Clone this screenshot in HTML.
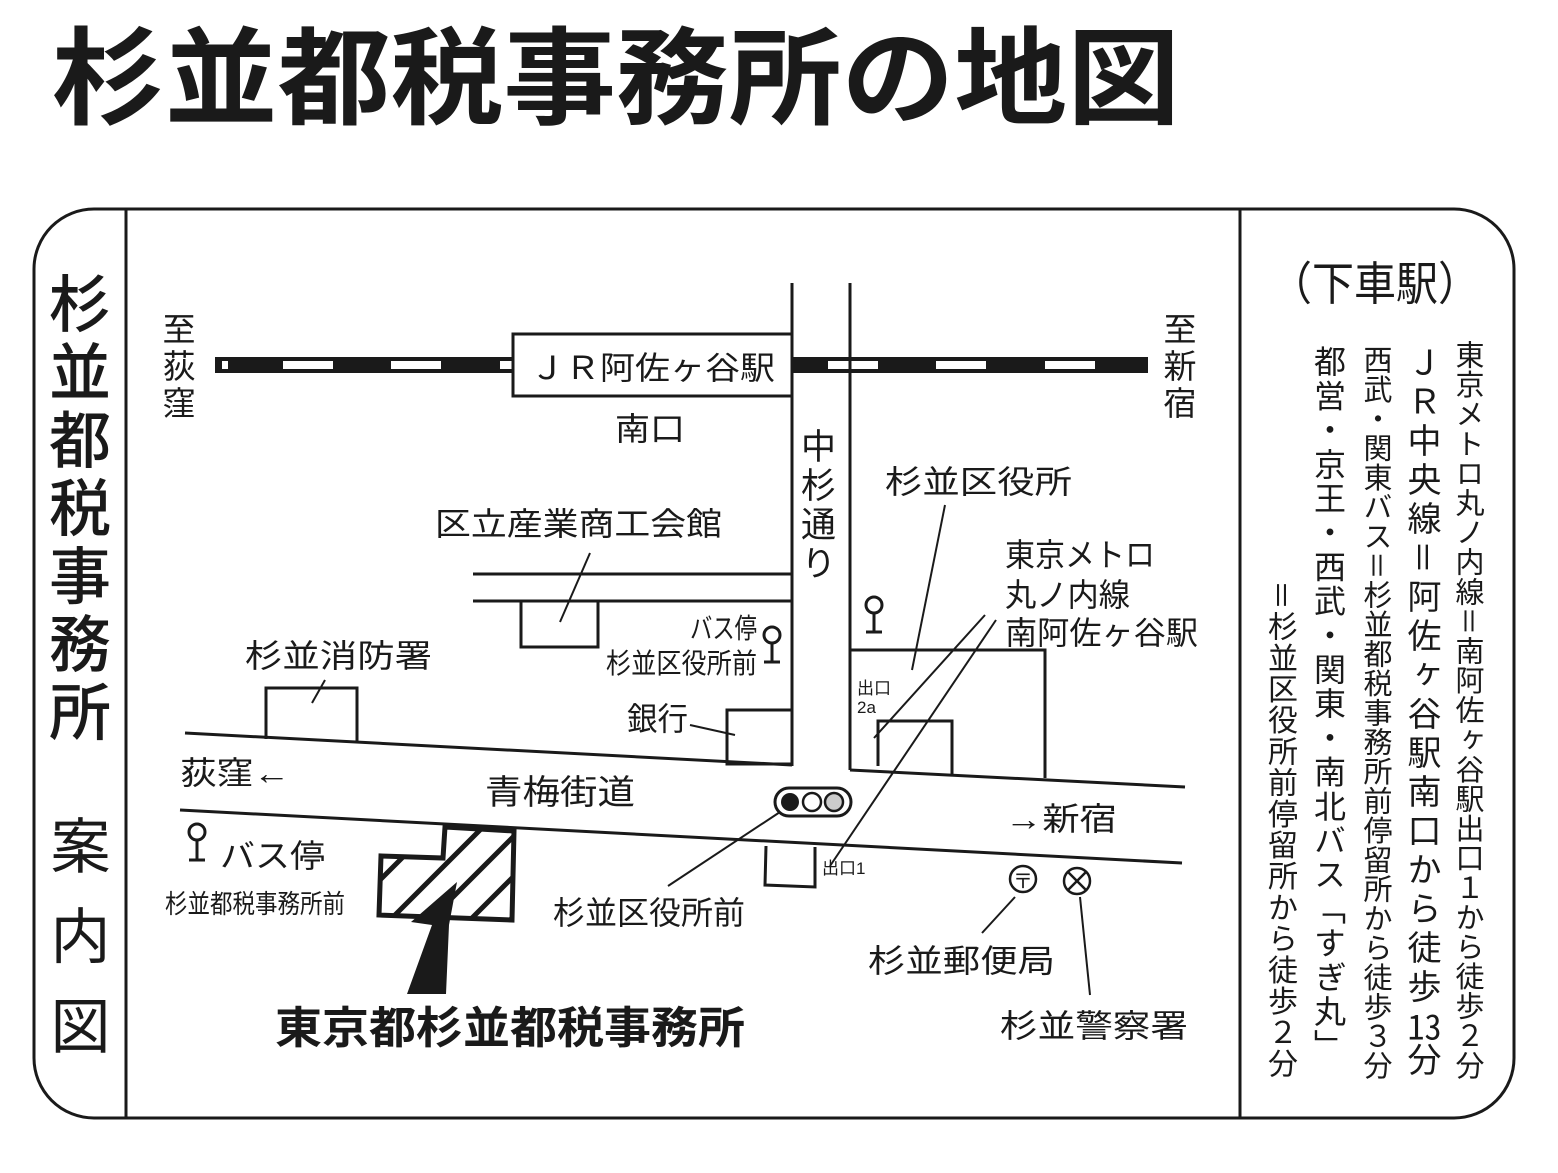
<!DOCTYPE html>
<html><head><meta charset="utf-8">
<style>
body{margin:0;background:#fff;}
#w{position:relative;width:1558px;height:1173px;overflow:hidden;font-family:"Liberation Sans","Noto Sans CJK JP",sans-serif;color:#1a1a1a;}
.v{position:absolute;writing-mode:vertical-rl;font-family:"Noto Sans CJK JP",sans-serif;white-space:nowrap;line-height:1;}
.tcy{text-combine-upright:all;}
svg text{font-family:"Liberation Sans","Noto Sans CJK JP",sans-serif;fill:#1a1a1a;}
</style></head><body><div id="w">
<svg width="1558" height="1173" viewBox="0 0 1558 1173" style="position:absolute;left:0;top:0">
<defs>
<clipPath id="bc"><polygon points="445,827 514,831 512,920 379,915 381,856 443,858"/></clipPath>
</defs>
<text x="52" y="116" font-size="106" font-weight="bold" textLength="1128" lengthAdjust="spacingAndGlyphs" style="font-family:'Noto Sans CJK JP',sans-serif">杉並都税事務所の地図</text>
<rect x="34" y="209" width="1480" height="909" rx="60" fill="none" stroke="#1a1a1a" stroke-width="3"/>
<line x1="126" y1="209" x2="126" y2="1118" stroke="#1a1a1a" stroke-width="3"/>
<line x1="1240" y1="209" x2="1240" y2="1118" stroke="#1a1a1a" stroke-width="3"/>
<text x="1270" y="300" font-size="46" textLength="210" lengthAdjust="spacingAndGlyphs" style="font-family:'Noto Sans CJK JP',sans-serif">（下車駅）</text>

<!-- rail -->
<rect x="215" y="357" width="933" height="16" fill="#1a1a1a"/>
<g fill="#fff">
<rect x="283" y="361" width="50" height="8"/><rect x="391" y="361" width="50" height="8"/><rect x="500" y="361" width="12" height="8"/>
<rect x="828" y="361" width="50" height="8"/><rect x="936" y="361" width="50" height="8"/><rect x="1045" y="361" width="50" height="8"/>
<rect x="222" y="361" width="6" height="8"/>
</g>
<rect x="513" y="334" width="279" height="62" fill="#fff" stroke="#1a1a1a" stroke-width="3"/>
<text x="530" y="379" font-size="32" textLength="245" lengthAdjust="spacingAndGlyphs">ＪＲ阿佐ヶ谷駅</text>
<g stroke="#1a1a1a" stroke-width="3" fill="none">
<line x1="792" y1="283" x2="792" y2="766"/>
<line x1="850" y1="283" x2="850" y2="770"/>
<line x1="473" y1="574" x2="792" y2="574"/>
<line x1="473" y1="601" x2="792" y2="601"/>
<polyline points="521,601 521,647 598,647 598,601"/>
<line x1="560" y1="622" x2="590" y2="553" stroke-width="2"/>
<rect x="727" y="710" width="65" height="54"/>
<line x1="690" y1="725" x2="735" y2="735" stroke-width="2"/>
<polyline points="266,739 266,688 357,688 357,742"/>
<line x1="312" y1="703" x2="325" y2="680" stroke-width="2"/>
<line x1="185" y1="733" x2="792" y2="765"/>
<line x1="850" y1="770" x2="1185" y2="787"/>
<line x1="180" y1="810" x2="1182" y2="863"/>
<polyline points="850,650 1045,650 1045,778"/>
<polyline points="878,766 878,721 952,721 952,774"/>
<line x1="945" y1="505" x2="912" y2="670" stroke-width="2"/>
<line x1="985" y1="615" x2="874" y2="738" stroke-width="2"/>
<line x1="996" y1="620" x2="830" y2="866" stroke-width="2"/>
<polyline points="766,846 765,885 815,887 815,847"/>
<line x1="780" y1="812" x2="668" y2="886" stroke-width="2"/>
<line x1="1015" y1="897" x2="982" y2="933" stroke-width="2"/>
<line x1="1080" y1="897" x2="1090" y2="995" stroke-width="2"/>
</g>
<!-- traffic light -->
<rect x="775" y="788" width="76" height="28" rx="14" fill="#fff" stroke="#1a1a1a" stroke-width="3"/>
<circle cx="790" cy="802" r="9" fill="#1a1a1a"/>
<circle cx="812" cy="802" r="9" fill="#fff" stroke="#1a1a1a" stroke-width="2.5"/>
<circle cx="834" cy="802" r="9" fill="#ccc" stroke="#1a1a1a" stroke-width="2.5"/>
<!-- bus stops -->
<g stroke="#1a1a1a" stroke-width="3" fill="#fff">
<circle cx="772" cy="635" r="8"/><line x1="772" y1="643" x2="772" y2="662"/><line x1="764" y1="662" x2="780" y2="662"/>
<circle cx="874" cy="605" r="8"/><line x1="874" y1="613" x2="874" y2="632"/><line x1="866" y1="632" x2="882" y2="632"/>
<circle cx="197" cy="832" r="8"/><line x1="197" y1="840" x2="197" y2="860"/><line x1="189" y1="860" x2="205" y2="860"/>
</g>
<!-- post & police -->
<circle cx="1023" cy="879" r="13" fill="#fff" stroke="#1a1a1a" stroke-width="2.5"/>
<text x="1023" y="888" font-size="20" text-anchor="middle">〒</text>
<circle cx="1077" cy="881" r="13" fill="#fff" stroke="#1a1a1a" stroke-width="2.5"/>
<line x1="1068" y1="872" x2="1086" y2="890" stroke="#1a1a1a" stroke-width="2.5"/>
<line x1="1086" y1="872" x2="1068" y2="890" stroke="#1a1a1a" stroke-width="2.5"/>
<!-- building -->
<g clip-path="url(#bc)" stroke="#1a1a1a" stroke-width="5">
<line x1="360" y1="900" x2="440" y2="820"/><line x1="380" y1="930" x2="490" y2="820"/>
<line x1="420" y1="930" x2="530" y2="820"/><line x1="460" y1="930" x2="540" y2="850"/>
<line x1="500" y1="930" x2="540" y2="890"/><line x1="360" y1="870" x2="390" y2="840"/>
</g>
<polygon points="445,827 514,831 512,920 379,915 381,856 443,858" fill="none" stroke="#1a1a1a" stroke-width="5"/>
<polygon points="457,882 411,922 432,925 407,994 446,994 449,925" fill="#1a1a1a"/>

<!-- labels -->
<g font-size="32" lengthAdjust="spacingAndGlyphs">
<text x="615" y="440" textLength="70" lengthAdjust="spacingAndGlyphs">南口</text>
<text x="435" y="535" textLength="287" lengthAdjust="spacingAndGlyphs">区立産業商工会館</text>
<text x="245" y="667" textLength="187" lengthAdjust="spacingAndGlyphs">杉並消防署</text>
<text x="627" y="730" textLength="61" lengthAdjust="spacingAndGlyphs">銀行</text>
<text x="885" y="493" textLength="187" lengthAdjust="spacingAndGlyphs">杉並区役所</text>
<text x="1005" y="566" textLength="150" lengthAdjust="spacingAndGlyphs">東京メトロ</text>
<text x="1005" y="606" textLength="125" lengthAdjust="spacingAndGlyphs">丸ノ内線</text>
<text x="1005" y="644" textLength="193" lengthAdjust="spacingAndGlyphs">南阿佐ヶ谷駅</text>
<text x="180" y="784" textLength="110" lengthAdjust="spacingAndGlyphs">荻窪←</text>
<text x="485" y="804" font-size="34" textLength="150" lengthAdjust="spacingAndGlyphs">青梅街道</text>
<text x="1005" y="830" textLength="112" lengthAdjust="spacingAndGlyphs">→新宿</text>
<text x="220" y="867" textLength="105" lengthAdjust="spacingAndGlyphs">バス停</text>
<text x="553" y="924" textLength="192" lengthAdjust="spacingAndGlyphs">杉並区役所前</text>
<text x="868" y="972" textLength="187" lengthAdjust="spacingAndGlyphs">杉並郵便局</text>
<text x="1000" y="1037" textLength="188" lengthAdjust="spacingAndGlyphs">杉並警察署</text>
</g>
<g font-size="28">
<text x="690" y="638" textLength="67" lengthAdjust="spacingAndGlyphs">バス停</text>
<text x="606" y="673" textLength="151" lengthAdjust="spacingAndGlyphs">杉並区役所前</text>
</g>
<text x="165" y="913" font-size="26" textLength="180" lengthAdjust="spacingAndGlyphs">杉並都税事務所前</text>
<text x="857" y="694" font-size="17">出口</text>
<text x="857" y="713" font-size="17">2a</text>
<text x="822" y="874" font-size="17">出口1</text>
<text x="275" y="1043" font-size="44" font-weight="bold" textLength="470" lengthAdjust="spacingAndGlyphs" style="font-family:'Noto Sans CJK JP',sans-serif">東京都杉並都税事務所</text>
</svg>

<div class="v" style="left:162px;top:312px;font-size:33px;letter-spacing:4px">至荻窪</div>
<div class="v" style="left:1163px;top:312px;font-size:33px;letter-spacing:4px">至新宿</div>
<div class="v" style="left:801px;top:428px;font-size:35px;letter-spacing:4px">中杉通り</div>

<div class="v" style="left:49px;top:272px;font-size:62px;font-weight:500;letter-spacing:6px">杉並都税事務所</div>
<div class="v" style="left:50px;top:815px;font-size:60px;letter-spacing:30px">案内図</div>

<div class="v" style="left:1455px;top:340px;font-size:29px;letter-spacing:0.6px">東京メトロ丸ノ内線＝南阿佐ヶ谷駅出口１から徒歩２分</div>
<div class="v" style="left:1407px;top:345px;font-size:34px;letter-spacing:5px">ＪＲ中央線＝阿佐ヶ谷駅南口から徒歩<span class="tcy">13</span>分</div>
<div class="v" style="left:1363px;top:345px;font-size:29px;letter-spacing:0.4px">西武・関東バス＝杉並都税事務所前停留所から徒歩３分</div>
<div class="v" style="left:1314px;top:345px;font-size:32px;letter-spacing:2.2px">都営・京王・西武・関東・南北バス「すぎ丸」</div>
<div class="v" style="left:1268px;top:580px;font-size:30px;letter-spacing:1.2px">＝杉並区役所前停留所から徒歩２分</div>
</div></body></html>
